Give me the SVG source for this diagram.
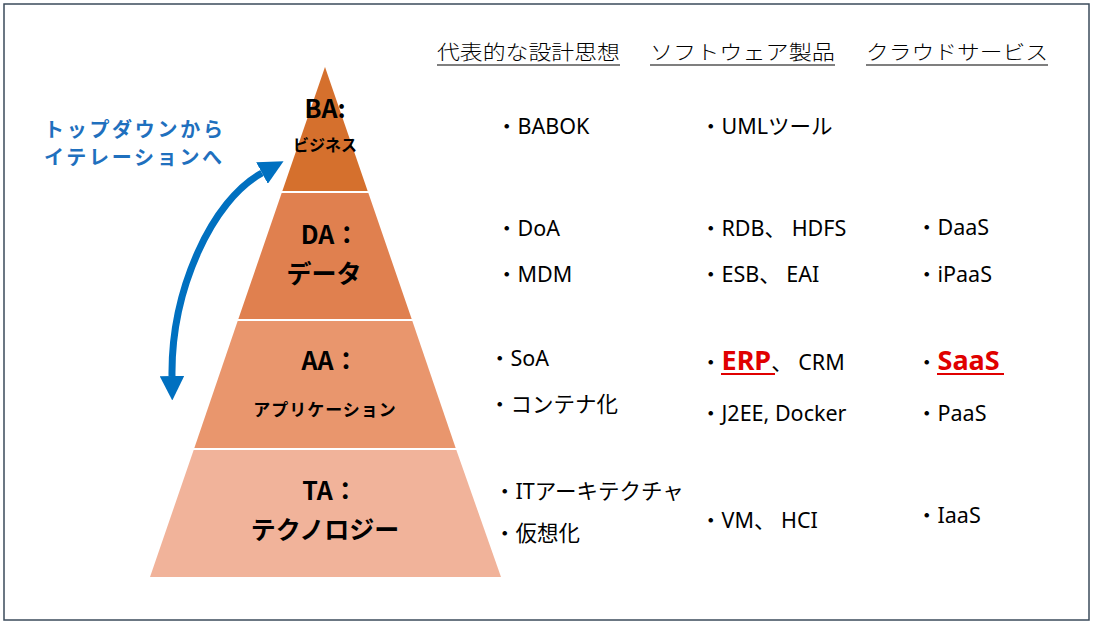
<svg xmlns="http://www.w3.org/2000/svg" width="1095" height="626" viewBox="0 0 1095 626">
<style>
.t{font-family:"Noto Sans CJK JP","Noto Sans",sans-serif;fill:#000}
.h{font-size:20px;font-weight:300}
.b{font-family:"Noto Sans","Noto Sans CJK JP",sans-serif;font-size:21.5px;fill:#000}
.lbl{font-weight:bold;text-anchor:middle}
.blue{font-family:"Noto Sans CJK JP",sans-serif;font-weight:bold;font-size:20px;fill:#1F70BE;letter-spacing:2.7px}
.red{fill:#E00000;font-weight:bold;font-size:27px}
.sep{stroke:#fff;stroke-width:2}
.ul{stroke:#000;stroke-width:1.2}
</style>
<defs>
<marker id="ah" viewBox="0 0 10 10" refX="0" refY="5" markerWidth="3.5" markerHeight="3.5" orient="auto-start-reverse">
<path d="M0,0 L10,5 L0,10 z" fill="#0070C0"/>
</marker>
</defs>
<rect x="4" y="4" width="1085" height="616" fill="#fff" stroke="#3B4B5B" stroke-width="1.5"/>

<g id="pyramid">
<polygon id="ba" points="325,67 368,192 282,192" fill="#D5702D"/>
<polygon id="da" points="282,192 368,192 412,320 238,320" fill="#E0804F"/>
<polygon id="aa" points="238,320 412,320 456,449 194,449" fill="#E9966D"/>
<polygon id="ta" points="194,449 456,449 501,577 150,577" fill="#F1B39A"/>
<line class="sep" x1="281" y1="192" x2="369" y2="192"/>
<line class="sep" x1="237" y1="320" x2="413" y2="320"/>
<line class="sep" x1="193" y1="449" x2="457" y2="449"/>
</g>

<g id="node-ba">
<text class="t lbl" x="325" y="118" font-size="25">BA:</text>
<text class="t lbl" x="325" y="151" font-size="16">ビジネス</text>
</g>
<g id="node-da">
<text class="t lbl" x="330" y="244" font-size="25">DA：</text>
<text class="t lbl" x="324" y="283" font-size="25">データ</text>
</g>
<g id="node-aa">
<text class="t lbl" x="330" y="370" font-size="25">AA：</text>
<text class="t lbl" x="325" y="416" font-size="17" letter-spacing="1">アプリケーション</text>
</g>
<g id="node-ta">
<text class="t lbl" x="330" y="500" font-size="25">TA：</text>
<text class="t lbl" x="325" y="539" font-size="25">テクノロジー</text>
</g>

<g id="caption">
<text class="blue" x="44" y="137">トップダウンから</text>
<text class="blue" x="44" y="165">イテレーションへ</text>
</g>

<g id="connectors">
<path d="M262,173 C212,200 171,290 172,376" fill="none" stroke="#0070C0" stroke-width="7" marker-start="url(#ah)" marker-end="url(#ah)"/>
</g>

<g id="headers">
<text class="t h" x="437" y="60" textLength="183" lengthAdjust="spacingAndGlyphs">代表的な設計思想</text>
<text class="t h" x="650" y="60" textLength="185" lengthAdjust="spacingAndGlyphs">ソフトウェア製品</text>
<text class="t h" x="866" y="60" textLength="182" lengthAdjust="spacingAndGlyphs">クラウドサービス</text>
<line class="ul" x1="437" y1="65" x2="620" y2="65"/>
<line class="ul" x1="650" y1="65" x2="835" y2="65"/>
<line class="ul" x1="866" y1="65" x2="1048" y2="65"/>
</g>

<g id="col-design">
<text class="b" x="496" y="134">・BABOK</text>
<text class="b" x="496" y="236">・DoA</text>
<text class="b" x="496" y="282">・MDM</text>
<text class="b" x="489" y="366">・SoA</text>
<text class="b" x="489" y="412">・コンテナ化</text>
<text class="b" x="494" y="499">・ITアーキテクチャ</text>
<text class="b" x="494" y="541">・仮想化</text>
</g>

<g id="col-software">
<text class="b" x="700" y="134">・UMLツール</text>
<text class="b" x="700" y="236">・RDB、 HDFS</text>
<text class="b" x="700" y="282">・ESB、 EAI</text>
<text class="b" x="700" y="370">・<tspan class="red">ERP</tspan>、 CRM</text>
<line x1="721" y1="374" x2="775" y2="374" stroke="#E00000" stroke-width="2"/>
<text class="b" x="700" y="421">・J2EE, Docker</text>
<text class="b" x="700" y="528">・VM、 HCI</text>
</g>

<g id="col-cloud">
<text class="b" x="916" y="235">・DaaS</text>
<text class="b" x="916" y="282">・iPaaS</text>
<text class="b" x="916" y="370">・<tspan class="red">SaaS</tspan></text>
<line x1="937" y1="374" x2="1004" y2="374" stroke="#E00000" stroke-width="2"/>
<text class="b" x="916" y="421">・PaaS</text>
<text class="b" x="916" y="523">・IaaS</text>
</g>
</svg>
